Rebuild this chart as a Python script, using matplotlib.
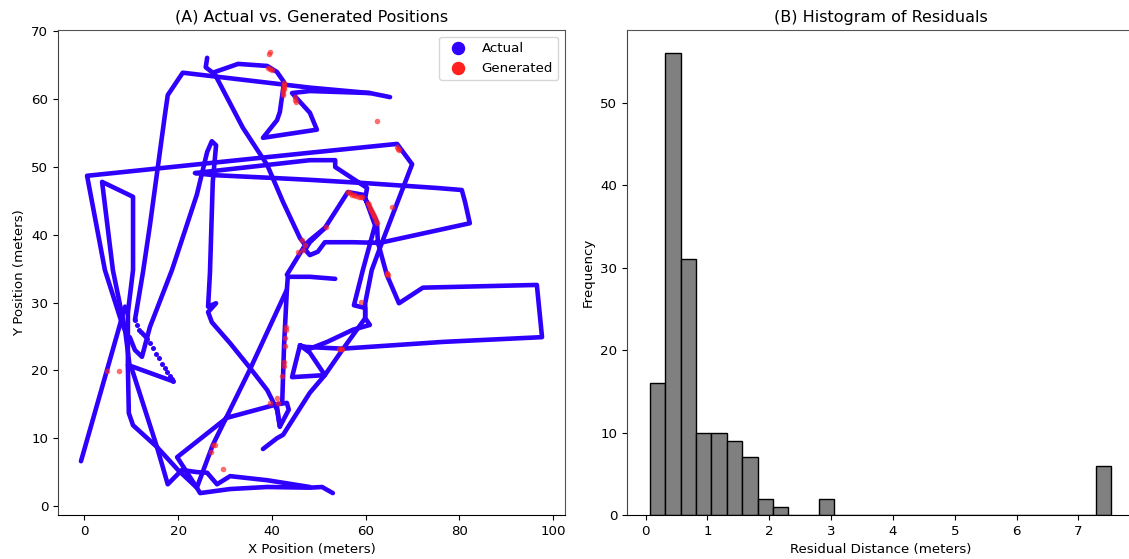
import numpy as np
import matplotlib
matplotlib.use('Agg')
import matplotlib.pyplot as plt

# actual trajectory, stroke by stroke (x, y in meters)
path_a = [(-0.7, 6.6), (8.7, 29.4), (9.3, 28.5), (9.3, 20.5), (9.5, 13.7), (10.4, 11.9), (15.5, 8.7), (20.0, 5.3),
          (24.0, 2.7), (24.7, 1.9), (31.1, 2.5), (39.0, 2.8), (48.1, 2.7), (50.7, 2.8), (53.0, 1.9)]
path_b = [(65.2, 60.3), (60.9, 60.9), (48.1, 61.7), (21.0, 63.9), (17.8, 60.6), (17.2, 57.7), (14.0, 41.4),
          (12.5, 34.4), (10.8, 27.4)]
path_c = [(18.9, 18.4), (9.3, 20.8)]
path_d = [(9.7, 20.5), (8.7, 26.0), (6.1, 34.8), (3.8, 47.8), (10.4, 45.6), (10.4, 34.8), (9.3, 28.5)]
path_e = [(9.7, 24.2), (8.0, 27.0), (4.4, 34.8), (0.6, 48.7), (48.1, 52.1), (66.7, 53.4), (69.9, 50.4), (63.5, 38.9),
          (61.3, 34.8), (59.9, 29.9), (59.9, 27.7), (60.9, 26.7), (57.3, 26.0), (51.8, 24.2), (48.1, 23.2),
          (46.0, 23.7), (44.3, 19.0), (51.3, 19.3), (48.1, 22.6), (46.0, 23.7)]
path_f = [(46.0, 23.5), (55.0, 23.2), (65.8, 23.7), (76.5, 24.2), (97.6, 24.9), (96.5, 32.6), (72.2, 32.2),
          (67.1, 29.9), (64.5, 34.1), (62.6, 38.9), (62.4, 41.9), (60.3, 44.8), (59.4, 45.9), (56.2, 46.3),
          (51.3, 41.0), (48.1, 38.9), (47.1, 37.8), (48.1, 37.0), (49.8, 37.5), (51.3, 38.9), (57.3, 38.9),
          (63.0, 38.8), (82.2, 41.7), (81.2, 44.8), (80.5, 46.6), (75.2, 46.9), (60.3, 47.6), (48.1, 48.1),
          (39.6, 48.4), (27.4, 48.8), (23.6, 49.1), (48.1, 51.0), (53.5, 51.0), (53.5, 50.0), (60.3, 46.9),
          (59.9, 45.4), (62.0, 41.4), (59.4, 34.8), (57.5, 29.6), (59.9, 29.2), (59.9, 27.7), (55.0, 23.0),
          (51.3, 19.3), (48.1, 16.7), (42.4, 10.5), (41.1, 10.0), (38.1, 8.4)]
path_g = [(53.5, 33.5), (48.1, 33.8), (43.4, 33.8), (43.2, 31.9), (35.3, 20.1), (27.4, 9.0), (24.0, 2.7), (19.8, 7.2),
          (30.4, 13.0), (41.1, 15.0), (43.2, 15.2), (43.6, 14.2), (41.7, 11.7), (41.1, 14.6)]
path_h = [(43.2, 31.9), (42.6, 23.7), (42.2, 15.2)]
path_i = [(10.2, 20.1), (15.5, 8.7), (17.8, 3.2), (20.8, 5.3), (24.0, 5.0), (26.2, 4.9), (28.3, 3.2), (31.1, 4.4),
          (39.0, 3.8), (48.1, 2.8)]
path_j = [(9.7, 24.9), (10.8, 23.0), (12.3, 22.0), (14.0, 26.4), (18.7, 34.8), (24.0, 45.9), (26.2, 52.2), (27.2, 53.8),
          (28.1, 53.2), (27.4, 47.8), (26.8, 34.4), (26.4, 29.4), (28.1, 29.9), (26.4, 28.6), (27.2, 27.1),
          (31.1, 24.0), (35.3, 20.4), (39.0, 17.1), (41.1, 14.2), (41.7, 11.7)]
path_k = [(26.2, 66.1), (25.9, 64.7), (27.4, 63.9), (32.8, 65.2), (39.0, 64.9), (41.1, 64.0), (42.6, 62.5),
          (41.7, 58.1), (41.1, 56.9), (38.1, 54.3), (49.6, 55.5), (48.1, 58.0), (44.3, 60.9), (48.1, 61.2), (60.9, 60.9)]
path_l = [(27.9, 63.6), (33.8, 55.8), (39.0, 50.3), (42.4, 44.8), (46.0, 39.5), (47.1, 38.5), (48.1, 39.2),
          (51.3, 41.0)]
path_m = [(47.1, 38.5), (43.2, 34.1)]
paths = [path_a, path_b, path_c, path_d, path_e, path_f, path_g, path_h, path_i, path_j, path_k, path_l, path_m]

# sparse stretch where single samples are visible
sparse_x = [10.8, 11.2, 11.7, 12.1, 12.5, 12.9, 13.3, 14.0, 14.6, 15.3, 16.0, 16.5, 17.2, 17.7, 18.2, 18.6, 19.0]
sparse_y = [27.4, 26.7, 26.0, 25.7, 25.4, 25.0, 24.6, 24.0, 23.3, 22.4, 21.8, 21.0, 20.4, 19.7, 19.2, 18.8, 18.4]

gen_x = [39.4, 39.5, 39.2, 39.6, 40.0, 42.6, 42.6, 42.5, 42.5, 42.4, 42.4, 42.3, 44.9, 45.0, 45.1, 62.4, 66.7, 66.9,
         67.1, 56.2, 56.6, 57.0, 57.5, 58.0, 58.5, 59.0, 59.2, 60.5, 60.7, 60.9, 61.1, 61.3, 61.6, 61.8, 62.0, 62.2,
         62.4, 65.6, 51.5, 46.4, 47.1, 46.6, 45.6, 64.5, 64.6, 64.8, 59.0, 54.3, 54.7, 55.0, 4.8, 7.4, 43.0, 43.0,
         42.8, 42.8, 42.6, 42.6, 42.2, 41.1, 41.3, 39.6, 27.5, 27.8, 27.0, 29.6]
gen_y = [66.6, 67.0, 64.6, 64.5, 64.3, 62.4, 62.1, 61.8, 61.5, 61.3, 60.9, 60.6, 60.3, 59.9, 59.6, 56.8, 53.0, 52.7,
         52.5, 46.3, 46.1, 45.9, 45.8, 45.7, 45.6, 45.6, 45.5, 44.7, 44.4, 44.0, 43.7, 43.4, 43.0, 42.8, 42.5, 42.1,
         41.7, 44.1, 41.1, 39.2, 38.5, 37.8, 37.5, 34.4, 34.2, 34.1, 30.1, 23.2, 23.2, 23.2, 19.9, 19.9, 26.4, 25.9,
         24.8, 23.6, 21.2, 20.7, 19.2, 15.9, 15.2, 15.2, 9.0, 9.0, 8.0, 5.4]

hist_counts = [16, 56, 31, 10, 10, 9, 7, 2, 1, 0, 0, 2, 0, 0, 0, 0, 0, 0, 0, 0, 0, 0, 0, 0, 0, 0, 0, 0, 0, 6]
hist_min = 0.07
hist_max = 7.53

BLUE = '#3000ff'
RED = '#ff2020'
W, H = 1129, 559

plt.rcParams['font.size'] = 9.6
plt.rcParams['axes.titlesize'] = 11.5

fig = plt.figure(figsize=(W / 100, H / 100), dpi=100)
ax1 = fig.add_axes([58 / W, 1 - 515 / H, 507 / W, 485 / H])
# the right panel runs a little past the edge of the image, as in the original
ax2 = fig.add_axes([627 / W, 1 - 515 / H, 507 / W, 485 / H])

for p in paths:
    px, py = zip(*p)
    ax1.plot(px, py, color=BLUE, lw=3.3, solid_capstyle='round', solid_joinstyle='round', zorder=2)
ax1.scatter(sparse_x, sparse_y, s=13, color=BLUE, linewidths=0, zorder=2)
ax1.scatter(gen_x, gen_y, s=16, color=RED, alpha=0.65, linewidths=0, zorder=3)
ax1.scatter([], [], s=75, color=BLUE, label='Actual')
ax1.scatter([], [], s=75, color=RED, label='Generated')

ax1.set_xlim(-5.6, 102.5)
ax1.set_ylim(-1.33, 70.2)
ax1.set_title('(A) Actual vs. Generated Positions')
ax1.set_xlabel('X Position (meters)')
ax1.set_ylabel('Y Position (meters)')
ax1.legend(loc='upper right')

edges = np.linspace(hist_min, hist_max, len(hist_counts) + 1)
ax2.bar(edges[:-1], hist_counts, width=np.diff(edges), align='edge', color='#808080', edgecolor='black', linewidth=1)
ax2.set_xlim(-0.30, 7.90)
ax2.set_ylim(0, 58.8)
ax2.set_title('(B) Histogram of Residuals')
ax2.set_xlabel('Residual Distance (meters)')
ax2.set_ylabel('Frequency')

for ax in (ax1, ax2):
    for s in ('top', 'right'):
        ax.spines[s].set_color('#555555')
    ax.spines['left'].set_color('#444444')

fig.savefig('out.png', dpi=100)
